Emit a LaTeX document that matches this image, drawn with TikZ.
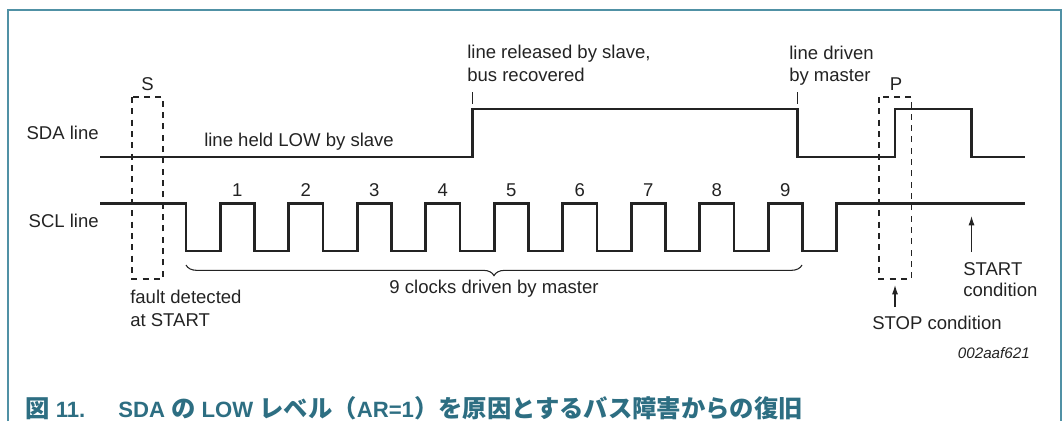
\documentclass[tikz,border=0pt]{standalone}
\usepackage{fontspec}
\setmainfont{Liberation Sans}
\newfontfamily\cjk{Noto Sans CJK JP}[Scale=1.1]
\usetikzlibrary{arrows.meta,decorations.pathreplacing}
\definecolor{framecol}{RGB}{80,145,165}
\definecolor{capcol}{RGB}{45,110,130}
\definecolor{inkcol}{RGB}{35,35,35}

\begin{document}
\begin{tikzpicture}[x=0.75pt,y=0.75pt,yscale=-1,xscale=1,
  wave/.style={draw=inkcol,line width=2pt,line join=miter},
  dbox/.style={draw=inkcol,line width=0.9pt,dash pattern=on 4.5pt off 4pt},
  tick/.style={draw=inkcol,line width=0.7pt},
  arr/.style={draw=inkcol,line width=0.8pt,-{Latex[length=7pt,width=4.5pt]}},
  lbl/.style={inner sep=0pt,text=inkcol,font=\fontsize{13.9}{16}\selectfont},
  captxt/.style={inner sep=0pt,text=capcol,font=\fontsize{16.6}{19}\selectfont\bfseries}]
\useasboundingbox (0,0) rectangle (1062,421);

%Frame
\draw [framecol,line width=1.5pt]  (7.5,421) -- (7.5,9.5) -- (1060.5,9.5) -- (1060.5,421) ;

%SDA line
\draw [wave]  (100,157) -- (472.5,157) -- (472.5,109) -- (797.5,109) -- (797.5,157) -- (895,157) -- (895,109) -- (971.5,109) -- (971.5,157) -- (1025,157) ;
%SCL line
\draw [wave]  (100,203.5) \foreach \k in {0,...,9} { -- ({186+68.5*\k},203.5) -- ({186+68.5*\k},251) -- ({220.25+68.5*\k},251) -- ({220.25+68.5*\k},203.5) } -- (1025,203.5) ;

%Shape: Rectangle (START)
\draw [dbox]  (132,97) rectangle (163,279) ;
%Shape: Rectangle (STOP)
\draw [dbox]  (879,97) rectangle (911.5,279) ;

%Straight Lines
\draw [tick]  (472.5,92) -- (472.5,104) ;
%Straight Lines
\draw [tick]  (797.5,92) -- (797.5,104) ;

%Brace
\draw [inkcol,line width=0.8pt,decorate,decoration={brace,mirror,amplitude=8pt}]  (186,265) -- (802,265) ;

%Arrows
\coordinate (stbot) at (971.5,252) ;
\coordinate (sttop) at (971.5,216) ;
\draw [arr]  (stbot) -- (sttop) ;
\coordinate (spbot) at (895,307) ;
\coordinate (sptop) at (895,285) ;
\draw [arr]  (spbot) -- (sptop) ;

% Text Node
\draw (99,139.5) node [lbl,anchor=base east] (sdalbl) {SDA line};
% Text Node
\draw (99,227) node [lbl,anchor=base east] (scllbl) {SCL line};
% Text Node
\draw (147.5,90) node [lbl,anchor=base] (slbl) {S};
% Text Node
\draw (896,90.5) node [lbl,anchor=base] (plbl) {P};
% Text Node
\draw (204,146.5) node [lbl,anchor=base west] (held) {line held LOW by slave};
% Text Node
\draw (467,58.5) node [lbl,anchor=base west] (relA) {line released by slave,};
\draw (467,81) node [lbl,anchor=base west] (relB) {bus recovered};
% Text Node
\draw (789,59) node [lbl,anchor=base west] (drvA) {line driven};
\draw (789,81) node [lbl,anchor=base west] (drvB) {by master};
% Clock numbers
\foreach \k in {1,...,9}
  \draw ({237.25+68.5*(\k-1)},196) node [lbl,anchor=base] (clk\k) {\k};
% Text Node
\draw (494,293.5) node [lbl,anchor=base] (clocks) {9 clocks driven by master};
% Text Node
\draw (130,303.5) node [lbl,anchor=base west] (faultA) {fault detected};
\draw (130,326.5) node [lbl,anchor=base west] (faultB) {at START};
% Text Node
\draw (963,275) node [lbl,anchor=base west] (startA) {START};
\draw (963,296.5) node [lbl,anchor=base west] (startB) {condition};
% Text Node
\draw (872,329) node [lbl,anchor=base west] (stop) {STOP condition};
% Text Node
\draw (1030,358) node [inner sep=0pt,text=inkcol,font=\fontsize{11.4}{13}\selectfont\itshape,anchor=base east] (figcode) {002aaf621};

% Caption
\draw (25,417) node [captxt,anchor=base west] (capnum) {{\cjk 図} 11.};
\draw (118,417) node [captxt,anchor=base west] (captext) {SDA {\cjk の} LOW {\cjk レベル（}AR=1{\cjk ）を原因とするバス障害からの復旧}};

\end{tikzpicture}
\end{document}
